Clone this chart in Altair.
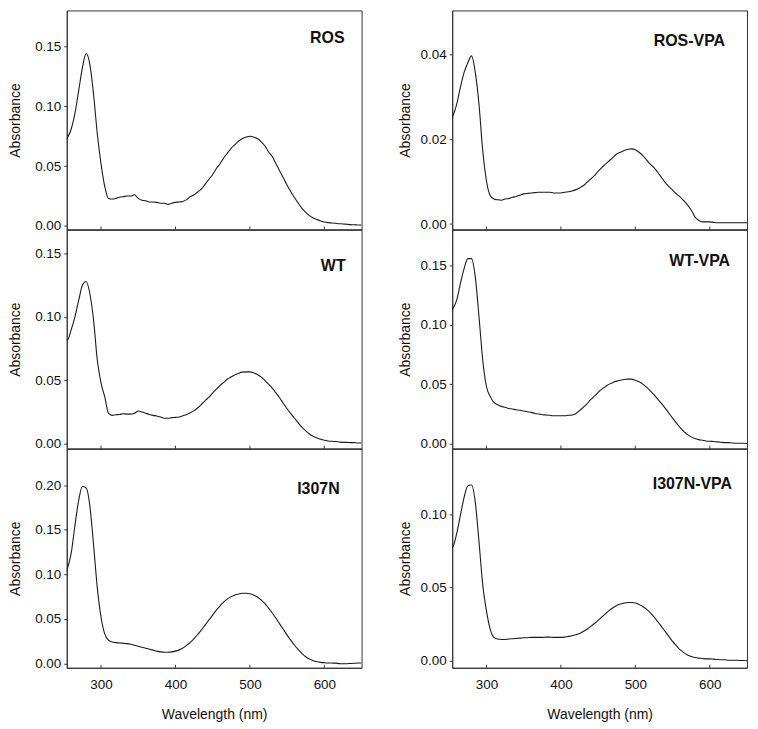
import altair as alt
import pandas as pd

# wavelength grid (nm)
WAVELENGTH = list(range(250, 655, 5))

ROS = [
    0.0715, 0.074, 0.081, 0.094, 0.113, 0.132, 0.144, 0.135, 0.110, 0.077,
    0.052, 0.033, 0.023, 0.0225, 0.023, 0.024, 0.0245, 0.025, 0.025, 0.026,
    0.023, 0.0215, 0.021, 0.020, 0.020, 0.0197, 0.019, 0.019, 0.018, 0.019,
    0.0197, 0.020, 0.0205, 0.022, 0.0245, 0.026, 0.0285, 0.031, 0.035, 0.039,
    0.043, 0.048, 0.052, 0.057, 0.061, 0.065, 0.068, 0.071, 0.073, 0.0743,
    0.0749, 0.0743, 0.073, 0.0705, 0.067, 0.062, 0.058, 0.052, 0.046, 0.040,
    0.034, 0.0285, 0.0235, 0.019, 0.0147, 0.0114, 0.0086, 0.0067, 0.0053, 0.0042,
    0.0033, 0.0028, 0.0025, 0.0022, 0.0019, 0.0017, 0.0014, 0.0011, 0.0010, 0.0008,
    0.0008,
]

WT = [
    0.082, 0.082, 0.090, 0.100, 0.113, 0.125, 0.128, 0.1185, 0.0975, 0.066,
    0.048, 0.037, 0.024, 0.0223, 0.0228, 0.023, 0.0236, 0.0233, 0.0233, 0.024,
    0.0257, 0.025, 0.024, 0.023, 0.0223, 0.0218, 0.021, 0.020, 0.020, 0.0205,
    0.0207, 0.021, 0.022, 0.023, 0.0244, 0.026, 0.0283, 0.031, 0.034, 0.0367,
    0.040, 0.043, 0.046, 0.0485, 0.051, 0.0527, 0.0543, 0.0556, 0.0564, 0.0566,
    0.0566, 0.0559, 0.0545, 0.0527, 0.050, 0.047, 0.0438, 0.040, 0.036, 0.0317,
    0.0275, 0.0236, 0.020, 0.0163, 0.0128, 0.010, 0.0076, 0.0058, 0.0045, 0.0034,
    0.0026, 0.0021, 0.0018, 0.0016, 0.0013, 0.0010, 0.0010, 0.0008, 0.0008, 0.0005,
    0.0005,
]

I307N = [
    0.099, 0.107, 0.124, 0.155, 0.183, 0.1985, 0.197, 0.177, 0.133, 0.085,
    0.052, 0.033, 0.026, 0.024, 0.0232, 0.0229, 0.0225, 0.0221, 0.0214, 0.0203,
    0.0192, 0.018, 0.017, 0.0159, 0.0148, 0.0137, 0.0129, 0.0125, 0.0125, 0.0129,
    0.0137, 0.0151, 0.0173, 0.0203, 0.0236, 0.0277, 0.0325, 0.0376, 0.0432, 0.0487,
    0.0542, 0.0598, 0.0646, 0.069, 0.0723, 0.0749, 0.0768, 0.0779, 0.0786, 0.0786,
    0.0782, 0.0768, 0.0745, 0.0712, 0.0672, 0.062, 0.0565, 0.0506, 0.0443, 0.038,
    0.0317, 0.0258, 0.0203, 0.0155, 0.011, 0.0074, 0.0048, 0.003, 0.0018, 0.0011,
    0.0007, 0.0004, 0.0003, 0.0002, -0.0003, -0.0005, -0.0004, -0.0002, 0.0, 0.0003,
    0.0003,
]

ROS_VPA = [
    0.0239, 0.0255, 0.0282, 0.0322, 0.0357, 0.038, 0.0396, 0.0357, 0.0282, 0.0173,
    0.0102, 0.0067, 0.0059, 0.0057, 0.0056, 0.0059, 0.006, 0.0063, 0.0065, 0.0068,
    0.0071, 0.0072, 0.0073, 0.0074, 0.0075, 0.0075, 0.0075, 0.0075, 0.0073, 0.0073,
    0.0073, 0.0075, 0.0076, 0.0078, 0.0081, 0.0085, 0.009, 0.0098, 0.0106, 0.0114,
    0.0124, 0.0133, 0.0141, 0.0149, 0.0157, 0.0165, 0.0169, 0.0173, 0.0176, 0.0177,
    0.0175, 0.0169, 0.0161, 0.0151, 0.0141, 0.0133, 0.0122, 0.011, 0.0098, 0.0088,
    0.008, 0.0071, 0.0064, 0.0055, 0.0045, 0.0033, 0.0017, 0.0009, 0.0005, 0.0005,
    0.0005, 0.0004, 0.0003, 0.0003, 0.0003, 0.0003, 0.0003, 0.0003, 0.0003, 0.0003,
    0.0003,
]

WT_VPA = [
    0.1096, 0.1137, 0.1207, 0.1347, 0.1472, 0.1556, 0.1556, 0.140, 0.1068, 0.0705,
    0.0482, 0.0399, 0.0348, 0.0329, 0.0315, 0.0307, 0.0298, 0.0293, 0.0287, 0.0282,
    0.0276, 0.027, 0.0265, 0.0256, 0.0251, 0.0245, 0.0243, 0.024, 0.0237, 0.0237,
    0.0237, 0.0237, 0.024, 0.0243, 0.0254, 0.0279, 0.0307, 0.0337, 0.0371, 0.0401,
    0.0432, 0.046, 0.0482, 0.0502, 0.0516, 0.0527, 0.0535, 0.0541, 0.0544, 0.0544,
    0.0535, 0.0521, 0.0502, 0.0477, 0.0446, 0.0413, 0.0376, 0.034, 0.0301, 0.0259,
    0.0217, 0.0176, 0.0139, 0.0106, 0.0078, 0.0059, 0.0045, 0.0036, 0.0031, 0.0025,
    0.0022, 0.002, 0.0017, 0.0014, 0.0011, 0.0011, 0.0008, 0.0006, 0.0006, 0.0006,
    0.0003,
]

I307N_VPA = [
    0.0763, 0.0779, 0.0869, 0.0993, 0.1117, 0.1196, 0.1201, 0.1084, 0.0813, 0.0519,
    0.0339, 0.0214, 0.0158, 0.0147, 0.0144, 0.0144, 0.0147, 0.0149, 0.0151, 0.0153,
    0.0156, 0.0156, 0.0158, 0.0158, 0.0158, 0.0158, 0.016, 0.016, 0.0158, 0.0158,
    0.0158, 0.016, 0.0165, 0.0169, 0.0176, 0.0185, 0.0199, 0.0214, 0.0233, 0.0253,
    0.0275, 0.0298, 0.0321, 0.0343, 0.0361, 0.0377, 0.0386, 0.0393, 0.0397, 0.0397,
    0.0393, 0.0384, 0.037, 0.0352, 0.0327, 0.0298, 0.0266, 0.0233, 0.0199, 0.0165,
    0.0131, 0.0102, 0.0074, 0.0054, 0.0038, 0.0027, 0.002, 0.0016, 0.0014, 0.0011,
    0.0011, 0.0009, 0.0007, 0.0005, 0.0005, 0.0002, 0.0002, 0.0002, 0.0, 0.0,
    -0.0002,
]

for s in (ROS, WT, I307N, ROS_VPA, WT_VPA, I307N_VPA):
    assert len(s) == len(WAVELENGTH), len(s)

X_TICKS = [300, 400, 500, 600]
X_DOMAIN = [254, 650]

W = 296
H = 220
FONT = "Liberation Sans"
LINE = "#1a1a1a"
FRAME = "#333333"


def panel(name, values, domain, yticks, lab_x, lab_y, bottom, title_pad):
    df = pd.DataFrame({"wl": WAVELENGTH, "A": values})
    xaxis = alt.Axis(
        values=X_TICKS,
        labels=bottom,
        ticks=False,
        tickSize=0,
        labelPadding=10,
        title="Wavelength (nm)" if bottom else None,
        titlePadding=16,
        domain=True,
    )
    xenc = alt.X("wl:Q", scale=alt.Scale(domain=X_DOMAIN, nice=False, zero=False), axis=xaxis)
    line = alt.Chart(df).mark_line(
        color=LINE, strokeWidth=1.1, interpolate="monotone", clip=True
    ).encode(
        x=xenc,
        y=alt.Y(
            "A:Q",
            scale=alt.Scale(domain=domain, nice=False, zero=False),
            axis=alt.Axis(
                values=yticks,
                format=".2f",
                title="Absorbance",
                tickSize=3,
                labelPadding=3,
                titlePadding=title_pad,
            ),
        ),
    )
    ticks = alt.Chart(pd.DataFrame({"wl": X_TICKS})).mark_rule(color=FRAME, strokeWidth=1).encode(
        x=xenc,
        y=alt.value(H - 3),
        y2=alt.value(H),
    )
    label = alt.Chart(pd.DataFrame({"label": [name]})).mark_text(
        align="right", baseline="middle", fontWeight="bold", fontSize=16, font=FONT, color="#111"
    ).encode(text="label:N", x=alt.value(lab_x), y=alt.value(lab_y))
    return alt.layer(line, ticks, label).properties(width=W, height=H)


left = alt.vconcat(
    panel("ROS", ROS, [-0.003, 0.18], [0, 0.05, 0.10, 0.15], 279, 28, False, 12),
    panel("WT", WT, [-0.004, 0.169], [0, 0.05, 0.10, 0.15], 280, 37, False, 12),
    panel("I307N", I307N, [-0.005, 0.241], [0, 0.05, 0.10, 0.15, 0.20], 274, 41, True, 12),
    spacing=0,
    bounds="flush",
).resolve_scale(y="independent")

right = alt.vconcat(
    panel("ROS-VPA", ROS_VPA, [-0.0013, 0.0503], [0, 0.02, 0.04], 274, 31, False, 8),
    panel("WT-VPA", WT_VPA, [-0.004, 0.180], [0, 0.05, 0.10, 0.15], 279, 32, False, 8),
    panel("I307N-VPA", I307N_VPA, [-0.005, 0.145], [0, 0.05, 0.10], 281, 36, True, 8),
    spacing=0,
    bounds="flush",
).resolve_scale(y="independent")

chart = (
    alt.hconcat(left, right, spacing=35)
    .resolve_scale(y="independent")
    .properties(padding={"left": 0, "top": 0, "right": 2, "bottom": 0}, background="white")
    .configure_view(stroke=FRAME, strokeWidth=1)
    .configure_axis(
        labelFont=FONT,
        labelFontSize=13.5,
        labelColor="#111",
        titleFont=FONT,
        titleFontSize=14,
        titleFontWeight="normal",
        titleColor="#111",
        domainColor=FRAME,
        tickColor=FRAME,
        grid=False,
    )
)

chart.save("out.html", embed_options={"renderer": "svg", "actions": False})
